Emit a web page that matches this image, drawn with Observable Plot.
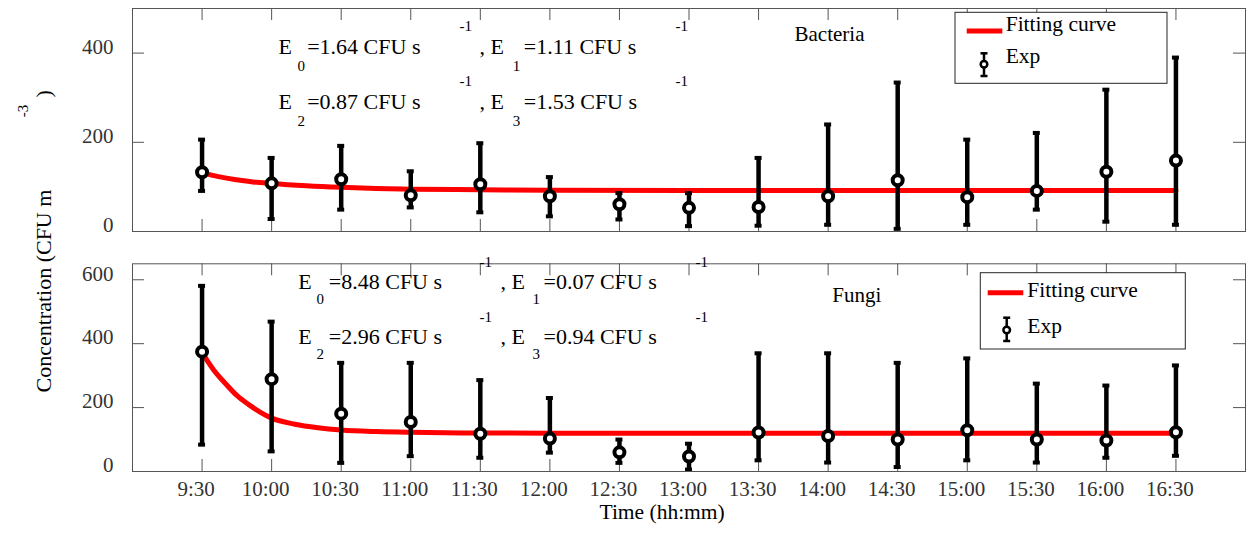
<!DOCTYPE html>
<html>
<head>
<meta charset="utf-8">
<script src="https://cdn.jsdelivr.net/npm/d3@7"></script>
<script src="https://cdn.jsdelivr.net/npm/@observablehq/plot@0.6"></script>
<style>
  html, body { margin: 0; padding: 0; background: #fff; }
  #wrap { position: relative; width: 1248px; height: 535px; font-family: "Liberation Serif", "Times New Roman", serif; }
  #wrap svg { position: absolute; left: 0; overflow: visible; }
</style>
</head>
<body>
<div id="wrap"></div>
<script>
// ---------------- data ----------------
const timeLabels = ["9:30","10:00","10:30","11:00","11:30","12:00","12:30","13:00","13:30","14:00","14:30","15:00","15:30","16:00","16:30"];

const bactMean = [133, 108, 117, 81, 106, 79, 61, 53, 55, 79, 115, 77, 91, 134, 159];
const bactHigh = [206, 165, 192, 135, 198, 122, 86, 86, 165, 240, 334, 206, 221, 318, 390];
const bactLow  = [91, 28, 49, 54, 43, 34, 27, 12, 13, 15, 6, 15, 49, 22, 15];

const fungiMean = [375, 289, 181, 155, 118, 103, 60, 47, 122, 111, 100, 129, 100, 97, 123];
const fungiHigh = [581, 469, 340, 340, 286, 230, 100, 87, 370, 370, 340, 354, 275, 269, 332];
const fungiLow  = [84, 63, 27, 48, 43, 59, 27, 6, 35, 28, 14, 35, 28, 43, 49];

const bactFitTimes  = ["9:30","9:37","9:45","9:52","10:00","10:15","10:30","10:45","11:00","11:30","12:00","13:00","14:00","15:00","16:00","16:30"];
const bactFitValues = [132, 123, 116, 111, 107.5, 102.5, 99, 96.5, 95, 93.5, 92.5, 92, 92, 92, 92, 92];

const fungiFitTimes  = ["9:30","9:35","9:40","9:45","9:50","9:55","10:00","10:10","10:20","10:30","10:45","11:00","11:30","12:00","13:00","14:00","15:00","16:00","16:30"];
const fungiFitValues = [372, 318, 276, 238, 210, 186, 167, 148, 137, 130, 125, 122.5, 120.5, 120, 120, 120, 120, 120, 120];

const bactYTicks  = [0, 200, 400];
const fungiYTicks = [0, 200, 400, 600];
const xDomainLabels = ["9:00", "17:00"];

const bactParams  = {E0: "1.64", E1: "1.11", E2: "0.87", E3: "1.53"};
const fungiParams = {E0: "8.48", E1: "0.07", E2: "2.96", E3: "0.94"};
const unitText = " CFU s";
const supText = "-1";
const panelNames = ["Bacteria", "Fungi"];
const legendLabels = ["Fitting curve", "Exp"];
const xTitle = "Time (hh:mm)";
const yTitle = ["Concentration (CFU m", "-3", ")"];

// ---------------- helpers ----------------
const parseT = s => { const [h, m] = s.split(":").map(Number); return h + m / 60; };
const xTicks = timeLabels.map(parseT);
const labelOf = new Map(xTicks.map((v, i) => [v, timeLabels[i]]));
const W = 1248;
const frameColor = "#555";
const tickColor = "#333";
const FONT = "Liberation Serif";

function annotation(p, offs) {
  const pieces = [
    ["E", offs.e0, offs.r1, 22], ["0", offs.s0, offs.r1 + offs.sub, 15], ["=" + p.E0 + unitText, offs.v0, offs.r1, 22], [supText, offs.p0, offs.r1 - offs.sup, 15],
    [", E", offs.e1, offs.r1, 22], ["1", offs.s1, offs.r1 + offs.sub, 15], ["=" + p.E1 + unitText, offs.v1, offs.r1, 22], [supText, offs.p1, offs.r1 - offs.sup, 15],
    ["E", offs.e0, offs.r2, 22], ["2", offs.s0, offs.r2 + offs.sub, 15], ["=" + p.E2 + unitText, offs.v0, offs.r2, 22], [supText, offs.p0, offs.r2 - offs.sup, 15],
    [", E", offs.e1, offs.r2, 22], ["3", offs.s1, offs.r2 + offs.sub, 15], ["=" + p.E3 + unitText, offs.v1, offs.r2, 22], [supText, offs.p1, offs.r2 - offs.sup, 15]
  ];
  return pieces.map(([t, dx, dy, fs]) => Plot.text([t], {
    text: d => d, frameAnchor: "top-left", dx, dy, textAnchor: "start", lineAnchor: "bottom",
    fontSize: fs, fill: "black", fontFamily: FONT
  }));
}

function panel(o) {
  const frameW = W - o.ml - o.mr, frameH = o.h - o.mt - o.mb;
  const pts = timeLabels.map((t, i) => ({x: parseT(t), m: o.mean[i], lo: o.low[i], hi: o.high[i]}));
  const fit = o.fitT.map((t, i) => ({x: parseT(t), v: o.fitV[i]}));
  const marks = [
    Plot.tickX(xTicks, {x: d => d, insetTop: frameH - 12, stroke: frameColor}),
    Plot.tickX(xTicks, {x: d => d, insetBottom: frameH - 12, stroke: frameColor}),
    Plot.tickY(o.yTicks, {y: d => d, insetLeft: frameW - 12, stroke: frameColor}),
    Plot.tickY(o.yTicks, {y: d => d, insetRight: frameW - 12, stroke: frameColor}),
    Plot.axisY({ticks: o.yTicks, tickSize: 0, tickPadding: 19, fontSize: 21, dy: -6, fill: tickColor, label: null, fontFamily: FONT}),
    Plot.line(fit, {x: "x", y: "v", stroke: "#ff0000", strokeWidth: 5, curve: "monotone-x"}),
    Plot.ruleX(pts, {x: "x", y1: "lo", y2: "hi", stroke: "black", strokeWidth: 4.5}),
    Plot.ruleY(pts, {y: "hi", x1: "x", x2: "x", insetLeft: -3.5, insetRight: -3.5, stroke: "black", strokeWidth: 4}),
    Plot.ruleY(pts, {y: "lo", x1: "x", x2: "x", insetLeft: -3.5, insetRight: -3.5, stroke: "black", strokeWidth: 4}),
    Plot.dot(pts, {x: "x", y: "m", r: 5, stroke: "black", strokeWidth: 4, fill: "white"}),
    Plot.frame({stroke: frameColor, strokeWidth: 1}),
    Plot.text([o.name], {text: d => d, frameAnchor: "top-left", dx: o.nameDx, dy: o.nameDy, textAnchor: "start", lineAnchor: "bottom", fontSize: 21, fill: "black", fontFamily: FONT}),
    ...annotation(o.params, o.offs),
    ...(o.extra || [])
  ];
  if (o.xLabels) {
    marks.push(Plot.axisX({ticks: xTicks, tickFormat: v => labelOf.get(v), tickSize: 0, tickPadding: 10, fontSize: 21, dx: -6, fill: tickColor, label: null, fontFamily: FONT}));
  }
  const svg = Plot.plot({
    width: W, height: o.h,
    marginLeft: o.ml, marginRight: o.mr, marginTop: o.mt, marginBottom: o.mb,
    x: {domain: xDomainLabels.map(parseT), axis: null},
    y: {domain: o.yDomain, axis: null},
    style: {fontFamily: FONT, overflow: "visible", background: "transparent"},
    marks
  });
  svg.style.top = o.top + "px";
  return svg;
}

function addLegend(svg, L) {
  const g = d3.select(svg).append("g").attr("font-family", FONT).attr("text-anchor", "start");
  g.append("rect").attr("x", L.bx).attr("y", L.by).attr("width", L.bw).attr("height", L.bh)
    .attr("fill", "white").attr("stroke", "#262626").attr("stroke-width", 1);
  g.append("line").attr("x1", L.lx1).attr("x2", L.lx2).attr("y1", L.ly).attr("y2", L.ly)
    .attr("stroke", "#ff0000").attr("stroke-width", 5);
  g.append("text").attr("x", L.tx).attr("y", L.t1y).attr("font-size", 21.5).attr("fill", "black").attr("text-anchor", "start").text(legendLabels[0]);
  g.append("line").attr("x1", L.ix).attr("x2", L.ix).attr("y1", L.iy1).attr("y2", L.iy2).attr("stroke", "black").attr("stroke-width", 2.5);
  g.append("line").attr("x1", L.ix - 3.5).attr("x2", L.ix + 3.5).attr("y1", L.iy1).attr("y2", L.iy1).attr("stroke", "black").attr("stroke-width", 2.5);
  g.append("line").attr("x1", L.ix - 3.5).attr("x2", L.ix + 3.5).attr("y1", L.iy2).attr("y2", L.iy2).attr("stroke", "black").attr("stroke-width", 2.5);
  g.append("circle").attr("cx", L.ix).attr("cy", L.icy).attr("r", 3.3).attr("fill", "white").attr("stroke", "black").attr("stroke-width", 2.5);
  g.append("text").attr("x", L.tx).attr("y", L.t2y).attr("font-size", 21.5).attr("fill", "black").attr("text-anchor", "start").text(legendLabels[1]);
}

const wrap = document.getElementById("wrap");

const topSvg = panel({
  top: 0, h: 245, ml: 132, mr: 3, mt: 8, mb: 14,
  mean: bactMean, high: bactHigh, low: bactLow, fitT: bactFitTimes, fitV: bactFitValues,
  yDomain: [0, 500], yTicks: bactYTicks, params: bactParams, name: panelNames[0], nameDx: 662, nameDy: 32,
  offs: {e0: 146, s0: 165, v0: 174.7, p0: 327, e1: 347, s1: 380.3, v1: 391.3, p1: 543, r1: 45, r2: 100, sub: 17, sup: 23},
  xLabels: false
});
addLegend(topSvg, {bx: 955, by: 12.3, bw: 212, bh: 71, lx1: 966.7, lx2: 1002.3, ly: 31, tx: 1005.7, t1y: 31, t2y: 63.3, ix: 984, iy1: 53.3, iy2: 76, icy: 64.3});
wrap.appendChild(topSvg);

const botSvg = panel({
  top: 245, h: 290, ml: 132, mr: 3, mt: 18.3, mb: 64,
  mean: fungiMean, high: fungiHigh, low: fungiLow, fitT: fungiFitTimes, fitV: fungiFitValues,
  yDomain: [0, 650], yTicks: fungiYTicks, params: fungiParams, name: panelNames[1], nameDx: 699.7, nameDy: 37.7,
  offs: {e0: 165.7, s0: 184, v0: 196.3, p0: 347, e1: 368, s1: 400, v1: 411, p1: 563, r1: 24.7, r2: 79.7, sub: 15, sup: 22},
  xLabels: true,
  extra: [
    Plot.text([xTitle], {text: d => d, frameAnchor: "bottom-left", dx: 467, dy: 47, textAnchor: "start", lineAnchor: "bottom", fontSize: 21.5, fill: "black", fontFamily: FONT}),
    Plot.text([yTitle[0]], {text: d => d, frameAnchor: "top-left", dx: -82, dy: 128.7, rotate: -90, textAnchor: "start", lineAnchor: "bottom", fontSize: 22, fill: "black", fontFamily: FONT}),
    Plot.text([yTitle[1]], {text: d => d, frameAnchor: "top-left", dx: -105, dy: -146.6, rotate: -90, textAnchor: "start", lineAnchor: "bottom", fontSize: 15, fill: "black", fontFamily: FONT}),
    Plot.text([yTitle[2]], {text: d => d, frameAnchor: "top-left", dx: -82, dy: -166.3, rotate: -90, textAnchor: "start", lineAnchor: "bottom", fontSize: 22, fill: "black", fontFamily: FONT})
  ]
});
addLegend(botSvg, {bx: 980.3, by: 272.7 - 245, bw: 205, bh: 76.3, lx1: 987.7, lx2: 1023.3, ly: 292.7 - 245, tx: 1027.3, t1y: 296.7 - 245, t2y: 333 - 245, ix: 1006.7, iy1: 317.7 - 245, iy2: 341 - 245, icy: 330 - 245});
wrap.appendChild(botSvg);
</script>
</body>
</html>
